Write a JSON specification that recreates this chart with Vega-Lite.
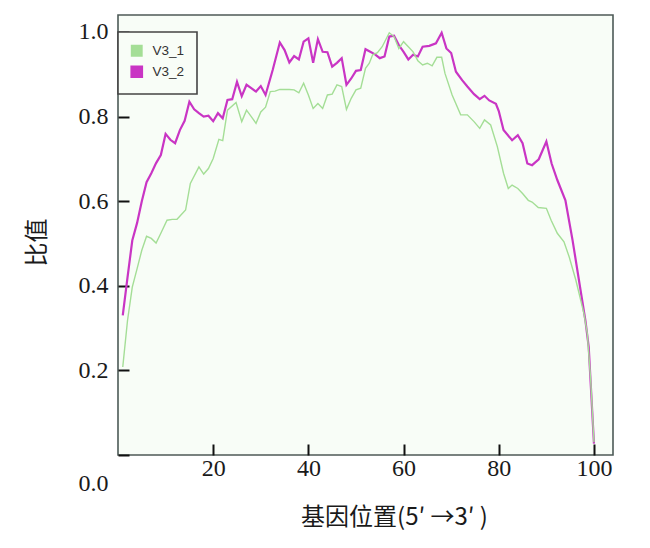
{
  "$schema": "https://vega.github.io/schema/vega-lite/v6.json",
  "width": 495,
  "height": 440,
  "autosize": {"type": "none"},
  "padding": {"left": 118, "top": 15, "right": 37, "bottom": 93},
  "background": "#ffffff",
  "config": {
    "view": {"fill": "#f8fdf7", "stroke": "#4d5a57", "strokeWidth": 1.6},
    "axis": {
      "labelFont": "Liberation Serif",
      "labelFontSize": 24,
      "labelColor": "#1a1a1a",
      "titleFont": "Liberation Serif, Noto Sans CJK SC",
      "titleFontSize": 24,
      "titleFontWeight": "normal",
      "titleColor": "#1a1a1a",
      "domain": false,
      "grid": false,
      "tickColor": "#111111",
      "tickWidth": 2,
      "tickSize": -11
    }
  },
  "data": {
    "values": [
      {"pos": 1, "ratio": 0.33, "series": "V3_2"},
      {"pos": 2, "ratio": 0.42, "series": "V3_2"},
      {"pos": 3, "ratio": 0.507, "series": "V3_2"},
      {"pos": 4, "ratio": 0.548, "series": "V3_2"},
      {"pos": 5, "ratio": 0.6, "series": "V3_2"},
      {"pos": 6, "ratio": 0.645, "series": "V3_2"},
      {"pos": 7, "ratio": 0.666, "series": "V3_2"},
      {"pos": 8, "ratio": 0.69, "series": "V3_2"},
      {"pos": 9, "ratio": 0.709, "series": "V3_2"},
      {"pos": 10, "ratio": 0.759, "series": "V3_2"},
      {"pos": 11, "ratio": 0.745, "series": "V3_2"},
      {"pos": 12, "ratio": 0.737, "series": "V3_2"},
      {"pos": 13, "ratio": 0.768, "series": "V3_2"},
      {"pos": 14, "ratio": 0.79, "series": "V3_2"},
      {"pos": 15, "ratio": 0.835, "series": "V3_2"},
      {"pos": 16, "ratio": 0.817, "series": "V3_2"},
      {"pos": 17, "ratio": 0.808, "series": "V3_2"},
      {"pos": 18, "ratio": 0.8, "series": "V3_2"},
      {"pos": 19, "ratio": 0.802, "series": "V3_2"},
      {"pos": 20, "ratio": 0.789, "series": "V3_2"},
      {"pos": 21, "ratio": 0.808, "series": "V3_2"},
      {"pos": 22, "ratio": 0.796, "series": "V3_2"},
      {"pos": 23, "ratio": 0.839, "series": "V3_2"},
      {"pos": 24, "ratio": 0.841, "series": "V3_2"},
      {"pos": 25, "ratio": 0.882, "series": "V3_2"},
      {"pos": 26, "ratio": 0.848, "series": "V3_2"},
      {"pos": 27, "ratio": 0.875, "series": "V3_2"},
      {"pos": 28, "ratio": 0.867, "series": "V3_2"},
      {"pos": 29, "ratio": 0.859, "series": "V3_2"},
      {"pos": 30, "ratio": 0.872, "series": "V3_2"},
      {"pos": 31, "ratio": 0.851, "series": "V3_2"},
      {"pos": 32.5, "ratio": 0.91, "series": "V3_2"},
      {"pos": 34, "ratio": 0.975, "series": "V3_2"},
      {"pos": 35, "ratio": 0.957, "series": "V3_2"},
      {"pos": 36, "ratio": 0.928, "series": "V3_2"},
      {"pos": 37, "ratio": 0.943, "series": "V3_2"},
      {"pos": 38, "ratio": 0.935, "series": "V3_2"},
      {"pos": 39, "ratio": 0.977, "series": "V3_2"},
      {"pos": 40, "ratio": 0.985, "series": "V3_2"},
      {"pos": 41, "ratio": 0.927, "series": "V3_2"},
      {"pos": 42, "ratio": 0.983, "series": "V3_2"},
      {"pos": 43, "ratio": 0.953, "series": "V3_2"},
      {"pos": 44, "ratio": 0.952, "series": "V3_2"},
      {"pos": 45, "ratio": 0.918, "series": "V3_2"},
      {"pos": 46, "ratio": 0.927, "series": "V3_2"},
      {"pos": 47, "ratio": 0.938, "series": "V3_2"},
      {"pos": 48, "ratio": 0.875, "series": "V3_2"},
      {"pos": 49, "ratio": 0.89, "series": "V3_2"},
      {"pos": 50, "ratio": 0.908, "series": "V3_2"},
      {"pos": 51, "ratio": 0.91, "series": "V3_2"},
      {"pos": 52, "ratio": 0.959, "series": "V3_2"},
      {"pos": 53, "ratio": 0.953, "series": "V3_2"},
      {"pos": 54, "ratio": 0.947, "series": "V3_2"},
      {"pos": 55, "ratio": 0.938, "series": "V3_2"},
      {"pos": 56, "ratio": 0.942, "series": "V3_2"},
      {"pos": 57, "ratio": 0.989, "series": "V3_2"},
      {"pos": 58, "ratio": 0.991, "series": "V3_2"},
      {"pos": 59, "ratio": 0.969, "series": "V3_2"},
      {"pos": 60, "ratio": 0.953, "series": "V3_2"},
      {"pos": 61, "ratio": 0.935, "series": "V3_2"},
      {"pos": 62, "ratio": 0.946, "series": "V3_2"},
      {"pos": 63, "ratio": 0.942, "series": "V3_2"},
      {"pos": 64, "ratio": 0.965, "series": "V3_2"},
      {"pos": 65.4, "ratio": 0.967, "series": "V3_2"},
      {"pos": 66.8, "ratio": 0.973, "series": "V3_2"},
      {"pos": 68, "ratio": 0.998, "series": "V3_2"},
      {"pos": 69, "ratio": 0.961, "series": "V3_2"},
      {"pos": 70, "ratio": 0.95, "series": "V3_2"},
      {"pos": 71, "ratio": 0.906, "series": "V3_2"},
      {"pos": 72.3, "ratio": 0.886, "series": "V3_2"},
      {"pos": 73.4, "ratio": 0.871, "series": "V3_2"},
      {"pos": 74.8, "ratio": 0.853, "series": "V3_2"},
      {"pos": 76, "ratio": 0.841, "series": "V3_2"},
      {"pos": 77, "ratio": 0.849, "series": "V3_2"},
      {"pos": 78, "ratio": 0.838, "series": "V3_2"},
      {"pos": 79.4, "ratio": 0.83, "series": "V3_2"},
      {"pos": 80, "ratio": 0.813, "series": "V3_2"},
      {"pos": 81, "ratio": 0.768, "series": "V3_2"},
      {"pos": 82.8, "ratio": 0.744, "series": "V3_2"},
      {"pos": 84, "ratio": 0.756, "series": "V3_2"},
      {"pos": 85, "ratio": 0.737, "series": "V3_2"},
      {"pos": 86, "ratio": 0.689, "series": "V3_2"},
      {"pos": 87, "ratio": 0.685, "series": "V3_2"},
      {"pos": 88.4, "ratio": 0.699, "series": "V3_2"},
      {"pos": 90, "ratio": 0.741, "series": "V3_2"},
      {"pos": 91.1, "ratio": 0.689, "series": "V3_2"},
      {"pos": 92.3, "ratio": 0.65, "series": "V3_2"},
      {"pos": 94, "ratio": 0.602, "series": "V3_2"},
      {"pos": 95.5, "ratio": 0.508, "series": "V3_2"},
      {"pos": 98.2, "ratio": 0.318, "series": "V3_2"},
      {"pos": 98.9, "ratio": 0.255, "series": "V3_2"},
      {"pos": 100, "ratio": 0.027, "series": "V3_2"},
      {"pos": 1, "ratio": 0.208, "series": "V3_1"},
      {"pos": 2, "ratio": 0.318, "series": "V3_1"},
      {"pos": 3, "ratio": 0.397, "series": "V3_1"},
      {"pos": 4, "ratio": 0.44, "series": "V3_1"},
      {"pos": 5, "ratio": 0.484, "series": "V3_1"},
      {"pos": 6, "ratio": 0.517, "series": "V3_1"},
      {"pos": 7, "ratio": 0.512, "series": "V3_1"},
      {"pos": 8, "ratio": 0.501, "series": "V3_1"},
      {"pos": 9, "ratio": 0.524, "series": "V3_1"},
      {"pos": 10.3, "ratio": 0.555, "series": "V3_1"},
      {"pos": 11.4, "ratio": 0.557, "series": "V3_1"},
      {"pos": 12.4, "ratio": 0.557, "series": "V3_1"},
      {"pos": 14.2, "ratio": 0.579, "series": "V3_1"},
      {"pos": 15.2, "ratio": 0.642, "series": "V3_1"},
      {"pos": 17, "ratio": 0.681, "series": "V3_1"},
      {"pos": 18, "ratio": 0.664, "series": "V3_1"},
      {"pos": 19, "ratio": 0.677, "series": "V3_1"},
      {"pos": 20, "ratio": 0.701, "series": "V3_1"},
      {"pos": 21.2, "ratio": 0.746, "series": "V3_1"},
      {"pos": 22, "ratio": 0.743, "series": "V3_1"},
      {"pos": 23, "ratio": 0.815, "series": "V3_1"},
      {"pos": 24.8, "ratio": 0.833, "series": "V3_1"},
      {"pos": 26, "ratio": 0.788, "series": "V3_1"},
      {"pos": 27, "ratio": 0.815, "series": "V3_1"},
      {"pos": 28, "ratio": 0.8, "series": "V3_1"},
      {"pos": 29, "ratio": 0.784, "series": "V3_1"},
      {"pos": 30, "ratio": 0.811, "series": "V3_1"},
      {"pos": 31, "ratio": 0.822, "series": "V3_1"},
      {"pos": 32, "ratio": 0.859, "series": "V3_1"},
      {"pos": 33, "ratio": 0.86, "series": "V3_1"},
      {"pos": 34, "ratio": 0.864, "series": "V3_1"},
      {"pos": 36, "ratio": 0.864, "series": "V3_1"},
      {"pos": 37, "ratio": 0.863, "series": "V3_1"},
      {"pos": 38, "ratio": 0.856, "series": "V3_1"},
      {"pos": 39, "ratio": 0.879, "series": "V3_1"},
      {"pos": 40, "ratio": 0.851, "series": "V3_1"},
      {"pos": 41, "ratio": 0.819, "series": "V3_1"},
      {"pos": 42, "ratio": 0.831, "series": "V3_1"},
      {"pos": 43, "ratio": 0.819, "series": "V3_1"},
      {"pos": 44, "ratio": 0.851, "series": "V3_1"},
      {"pos": 45, "ratio": 0.853, "series": "V3_1"},
      {"pos": 46, "ratio": 0.875, "series": "V3_1"},
      {"pos": 47, "ratio": 0.871, "series": "V3_1"},
      {"pos": 48, "ratio": 0.817, "series": "V3_1"},
      {"pos": 49, "ratio": 0.843, "series": "V3_1"},
      {"pos": 50, "ratio": 0.863, "series": "V3_1"},
      {"pos": 51, "ratio": 0.867, "series": "V3_1"},
      {"pos": 52, "ratio": 0.914, "series": "V3_1"},
      {"pos": 52.8, "ratio": 0.926, "series": "V3_1"},
      {"pos": 53.5, "ratio": 0.946, "series": "V3_1"},
      {"pos": 54.5, "ratio": 0.951, "series": "V3_1"},
      {"pos": 55.5, "ratio": 0.965, "series": "V3_1"},
      {"pos": 57, "ratio": 0.998, "series": "V3_1"},
      {"pos": 58, "ratio": 0.989, "series": "V3_1"},
      {"pos": 59, "ratio": 0.961, "series": "V3_1"},
      {"pos": 60, "ratio": 0.977, "series": "V3_1"},
      {"pos": 61, "ratio": 0.965, "series": "V3_1"},
      {"pos": 62, "ratio": 0.953, "series": "V3_1"},
      {"pos": 63, "ratio": 0.932, "series": "V3_1"},
      {"pos": 64, "ratio": 0.922, "series": "V3_1"},
      {"pos": 65, "ratio": 0.926, "series": "V3_1"},
      {"pos": 66, "ratio": 0.92, "series": "V3_1"},
      {"pos": 67, "ratio": 0.94, "series": "V3_1"},
      {"pos": 68, "ratio": 0.94, "series": "V3_1"},
      {"pos": 68.7, "ratio": 0.902, "series": "V3_1"},
      {"pos": 70.2, "ratio": 0.851, "series": "V3_1"},
      {"pos": 72, "ratio": 0.804, "series": "V3_1"},
      {"pos": 73.4, "ratio": 0.804, "series": "V3_1"},
      {"pos": 74.8, "ratio": 0.788, "series": "V3_1"},
      {"pos": 76, "ratio": 0.772, "series": "V3_1"},
      {"pos": 77, "ratio": 0.792, "series": "V3_1"},
      {"pos": 78.3, "ratio": 0.78, "series": "V3_1"},
      {"pos": 79.7, "ratio": 0.729, "series": "V3_1"},
      {"pos": 81, "ratio": 0.666, "series": "V3_1"},
      {"pos": 82, "ratio": 0.63, "series": "V3_1"},
      {"pos": 82.8, "ratio": 0.638, "series": "V3_1"},
      {"pos": 84, "ratio": 0.63, "series": "V3_1"},
      {"pos": 85, "ratio": 0.618, "series": "V3_1"},
      {"pos": 86.2, "ratio": 0.602, "series": "V3_1"},
      {"pos": 87, "ratio": 0.598, "series": "V3_1"},
      {"pos": 88.3, "ratio": 0.585, "series": "V3_1"},
      {"pos": 90, "ratio": 0.583, "series": "V3_1"},
      {"pos": 91, "ratio": 0.555, "series": "V3_1"},
      {"pos": 92.3, "ratio": 0.524, "series": "V3_1"},
      {"pos": 93.7, "ratio": 0.504, "series": "V3_1"},
      {"pos": 94.8, "ratio": 0.468, "series": "V3_1"},
      {"pos": 96.2, "ratio": 0.413, "series": "V3_1"},
      {"pos": 97.9, "ratio": 0.334, "series": "V3_1"},
      {"pos": 98.6, "ratio": 0.287, "series": "V3_1"},
      {"pos": 99.3, "ratio": 0.18, "series": "V3_1"},
      {"pos": 100, "ratio": 0.03, "series": "V3_1"}
    ]
  },
  "mark": {"type": "line", "interpolate": "linear"},
  "encoding": {
    "x": {
      "field": "pos",
      "type": "quantitative",
      "scale": {"domain": [0, 104], "nice": false, "zero": false},
      "axis": {
        "values": [20, 40, 60, 80, 100],
        "format": "d",
        "labelPadding": 24,
        "labelBaseline": "middle",
        "title": "基因位置(5′ →3′ )",
        "titleFont": "Noto Sans CJK SC",
        "titleFontSize": 24,
        "titleBaseline": "middle",
        "titleAlign": "center",
        "titleX": 276,
        "titleY": 62
      }
    },
    "y": {
      "field": "ratio",
      "type": "quantitative",
      "scale": {"domain": [0, 1.04], "nice": false},
      "axis": {
        "values": [0, 0.2, 0.4, 0.6, 0.8, 1.0],
        "format": ".1f",
        "labelPadding": 21,
        "labelOffset": {"condition": {"test": "datum.value === 0", "value": 28}, "value": 0},
        "title": "比值",
        "titleFont": "Noto Sans CJK SC",
        "titleFontSize": 24,
        "titleBaseline": "middle",
        "titleAlign": "center",
        "titleAngle": -90,
        "titleX": -81,
        "titleY": 227
      }
    },
    "color": {
      "field": "series",
      "type": "nominal",
      "scale": {"domain": ["V3_1", "V3_2"], "range": ["#a4de96", "#c935c4"]},
      "legend": {
        "title": null,
        "orient": "none",
        "legendX": 0,
        "legendY": 17,
        "symbolType": "square",
        "symbolSize": 110,
        "symbolStrokeColor": "#333333",
        "labelFont": "Liberation Sans",
        "labelFontSize": 13.5,
        "labelColor": "#333333",
        "labelOffset": 9,
        "padding": 12,
        "rowPadding": 3,
        "fillColor": "#f8fdf7",
        "strokeColor": "#444444",
        "encode": {
          "symbols": {
            "update": {
              "fill": {"scale": "color", "field": "value"},
              "stroke": {"value": "#333333"},
              "strokeWidth": {"value": 1.3},
              "opacity": {"value": 1}
            }
          },
          "legend": {
            "update": {"strokeWidth": {"value": 1.6}}
          }
        }
      }
    },
    "strokeWidth": {
      "field": "series",
      "type": "nominal",
      "scale": {"domain": ["V3_1", "V3_2"], "range": [1.4, 2.2]},
      "legend": null
    }
  }
}
